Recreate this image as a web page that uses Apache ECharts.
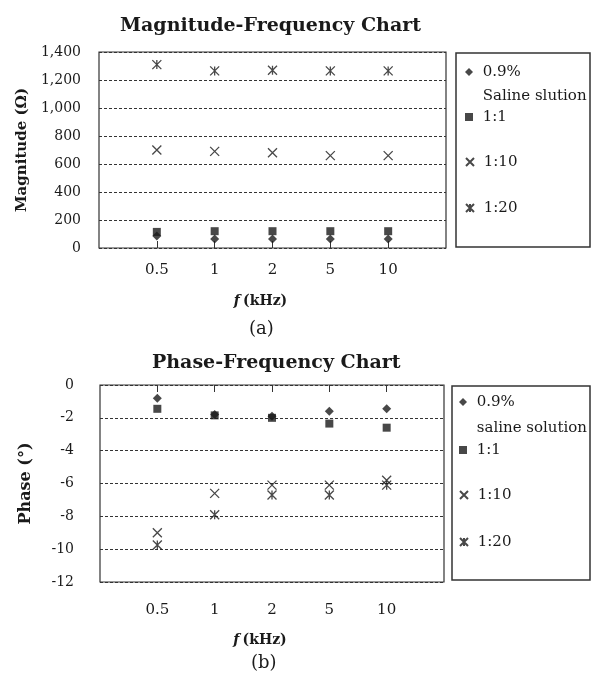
<!DOCTYPE html>
<html>
<head>
<meta charset="utf-8">
<script src="https://cdn.jsdelivr.net/npm/echarts@6/dist/echarts.min.js"></script>
<style>
  html, body { margin: 0; padding: 0; background: #fff; }
  #chart { width: 592px; height: 673px; }
</style>
</head>
<body>
<div id="chart"></div>
<script>
// ==============================
// data
// ==============================
const freqLabels = ['0.5', '1', '2', '5', '10'];
const seriesNames = ['0.9%', '1:1', '1:10', '1:20'];

// magnitude (Ω)
const magSaline = [85, 65, 65, 65, 65];
const mag1to1 = [115, 120, 120, 120, 120];
const mag1to10 = [700, 690, 680, 660, 660];
const mag1to20 = [1310, 1265, 1270, 1265, 1265];

// phase (°)
const phaseSaline = [-0.8, -1.8, -1.9, -1.6, -1.45];
const phase1to1 = [-1.45, -1.85, -2.0, -2.35, -2.6];
const phase1to10 = [-9.0, -6.6, -6.1, -6.1, -5.8];
const phase1to20 = [-9.75, -7.9, -6.7, -6.7, -6.1];

const magTicks = { min: 0, max: 1400, interval: 200 };
const phaseTicks = { min: -12, max: 0, interval: 2 };

// ==============================
// styles
// ==============================
const FONT = 'DejaVu Serif';
const INK = '#1a1a1a';
const symbols = [
  'diamond',
  'rect',
  'path://M0,0L10,10M10,0L0,10',
  'path://M0,0L10,10M10,0L0,10M5,0L5,10'
];
const symbolSizes = [9, 8, 9, 9];

// categories padded with an empty slot on each side
const xCats = [''].concat(freqLabels, ['']);

function toPoints(values) {
  return values.map((v, i) => [i + 1, v]);
}

function makeSeries(values, idx, xAxisIndex, yAxisIndex) {
  const stroked = idx >= 2;
  return {
    name: seriesNames[idx],
    type: 'scatter',
    xAxisIndex: xAxisIndex,
    yAxisIndex: yAxisIndex,
    symbol: symbols[idx],
    symbolSize: symbolSizes[idx],
    data: toPoints(values),
    itemStyle: stroked
      ? { color: 'rgba(0,0,0,0)', borderColor: INK, borderWidth: 1.3 }
      : { color: INK }
  };
}

// one legend per entry so each row sits where the reference has it
function makeLegend(name, left, top, text, lineHeight) {
  return {
    data: [name],
    left: left,
    top: top,
    padding: 0,
    itemWidth: 8,
    itemHeight: 8,
    selectedMode: false,
    formatter: () => text,
    textStyle: { fontFamily: FONT, fontSize: 15, color: INK, lineHeight: lineHeight || 16 }
  };
}

const splitLineStyle = { lineStyle: { color: '#333', width: 1.2, type: [3, 2] } };
const yLabelStyle = { fontFamily: FONT, fontSize: 14, color: INK };
const xLabelStyle = { fontFamily: FONT, fontSize: 15, color: INK };
const nameStyle = {
  padding: [0, 24, 0, 0],
  rich: {
    i: { fontFamily: FONT, fontSize: 14, fontWeight: 'bold', fontStyle: 'italic', color: INK },
    b: { fontFamily: FONT, fontSize: 14, fontWeight: 'bold', color: INK }
  }
};
const tickStyle = {
  inside: true, length: 7, lineStyle: { color: '#333' },
  interval: (i) => i > 0 && i < xCats.length - 1
};

// ==============================
// chart
// ==============================
const chart = echarts.init(document.getElementById('chart'));

chart.setOption({
  backgroundColor: '#fff',
  animation: false,
  title: [
    { text: 'Magnitude-Frequency Chart', left: 115, top: 12,
      textStyle: { fontFamily: FONT, fontSize: 19, fontWeight: 'bold', color: INK } },
    { text: '(a)', left: 244, top: 315,
      textStyle: { fontFamily: FONT, fontSize: 18, fontWeight: 'normal', color: INK } },
    { text: 'Phase-Frequency Chart', left: 147, top: 349,
      textStyle: { fontFamily: FONT, fontSize: 19, fontWeight: 'bold', color: INK } },
    { text: '(b)', left: 246, top: 649,
      textStyle: { fontFamily: FONT, fontSize: 18, fontWeight: 'normal', color: INK } }
  ],
  grid: [
    { left: 99, top: 52, right: 146, bottom: 425, show: true, borderColor: '#333', borderWidth: 1.2 },
    { left: 100, top: 385, right: 148, bottom: 91, show: true, borderColor: '#333', borderWidth: 1.2 }
  ],
  xAxis: [
    {
      gridIndex: 0, type: 'category', data: xCats, boundaryGap: false,
      axisLine: { show: false },
      axisTick: tickStyle,
      axisLabel: Object.assign({ margin: 15, interval: 0 }, xLabelStyle),
      splitLine: { show: false },
      name: '{i|f} {b|(kHz)}', nameLocation: 'middle', nameGap: 46, nameTextStyle: nameStyle
    },
    {
      gridIndex: 1, type: 'category', data: xCats, boundaryGap: false, position: 'bottom',
      axisLine: { show: false, onZero: false },
      axisTick: { show: false },
      axisLabel: Object.assign({ margin: 21, interval: 0 }, xLabelStyle),
      splitLine: { show: false },
      name: '{i|f} {b|(kHz)}', nameLocation: 'middle', nameGap: 51, nameTextStyle: nameStyle
    },
    {
      gridIndex: 1, type: 'category', data: xCats, boundaryGap: false, position: 'top',
      axisLine: { show: false, onZero: false },
      axisTick: tickStyle,
      axisLabel: { show: false },
      splitLine: { show: false }
    }
  ],
  yAxis: [
    {
      gridIndex: 0, type: 'value', min: magTicks.min, max: magTicks.max, interval: magTicks.interval,
      axisLine: { show: false }, axisTick: { show: false },
      axisLabel: Object.assign({ margin: 18, formatter: (v) => v.toLocaleString('en-US') }, yLabelStyle),
      splitLine: splitLineStyle,
      name: 'Magnitude (Ω)', nameLocation: 'middle', nameGap: 68,
      nameTextStyle: { fontFamily: FONT, fontSize: 15, fontWeight: 'bold', color: INK }
    },
    {
      gridIndex: 1, type: 'value', min: phaseTicks.min, max: phaseTicks.max, interval: phaseTicks.interval,
      axisLine: { show: false }, axisTick: { show: false },
      axisLabel: Object.assign({ margin: 26 }, yLabelStyle),
      splitLine: splitLineStyle,
      name: 'Phase (°)', nameLocation: 'middle', nameGap: 66,
      nameTextStyle: { fontFamily: FONT, fontSize: 16, fontWeight: 'bold', color: INK }
    }
  ],
  legend: [
    makeLegend('0.9%', 465, 36, '\n 0.9%\n Saline slution', 24),
    makeLegend('1:1', 465, 109, ' 1:1'),
    makeLegend('1:10', 465, 154, ' 1:10'),
    makeLegend('1:20', 465, 200, ' 1:20'),
    makeLegend('0.9%', 459, 363, '\n 0.9%\n saline solution', 26),
    makeLegend('1:1', 459, 442, ' 1:1'),
    makeLegend('1:10', 459, 487, ' 1:10'),
    makeLegend('1:20', 459, 534, ' 1:20')
  ],
  graphic: [
    { type: 'rect', shape: { x: 456, y: 53, width: 134, height: 194 },
      style: { fill: 'none', stroke: '#333', lineWidth: 1.5 } },
    { type: 'rect', shape: { x: 452, y: 386, width: 138, height: 194 },
      style: { fill: 'none', stroke: '#333', lineWidth: 1.5 } }
  ],
  series: [
    makeSeries(magSaline, 0, 0, 0),
    makeSeries(mag1to1, 1, 0, 0),
    makeSeries(mag1to10, 2, 0, 0),
    makeSeries(mag1to20, 3, 0, 0),
    makeSeries(phaseSaline, 0, 1, 1),
    makeSeries(phase1to1, 1, 1, 1),
    makeSeries(phase1to10, 2, 1, 1),
    makeSeries(phase1to20, 3, 1, 1)
  ]
});

window.addEventListener('resize', () => chart.resize());
</script>
</body>
</html>
